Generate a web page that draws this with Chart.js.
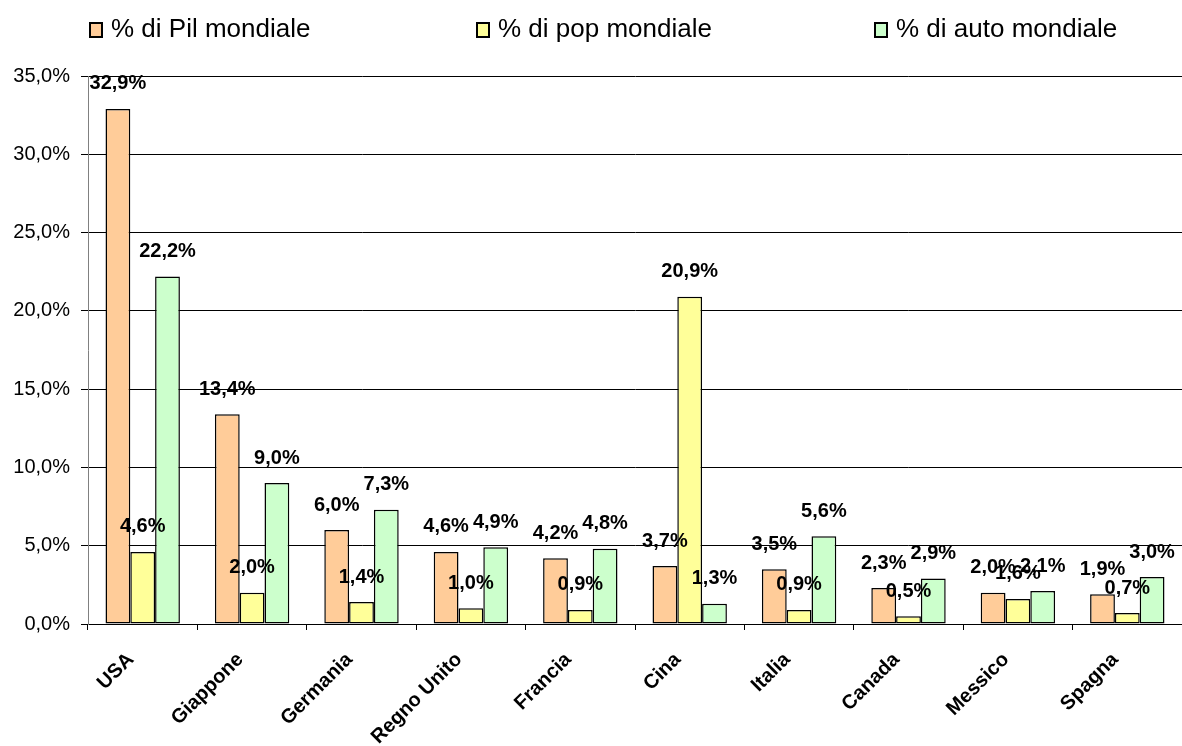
<!DOCTYPE html>
<html lang="it">
<head>
<meta charset="UTF-8">
<title>Pil, popolazione e auto</title>
<script src="https://cdnjs.cloudflare.com/ajax/libs/Chart.js/4.4.0/chart.umd.min.js"></script>
<style>
  * { margin:0; padding:0; box-sizing:border-box; }
  body { background:#fff; font-family:'Liberation Sans', Arial, sans-serif; }
  .wrap { position:relative; width:1182px; height:746px; }
  .legenda { position:absolute; top:13px; left:0; width:1182px; height:30px; }
  .legenda span { position:absolute; top:0; display:flex; align-items:center; font-size:26px; line-height:30px; color:#000; white-space:nowrap; }
  .legenda i { display:inline-block; width:14px; height:16px; border:2px solid #000; margin-right:8px; margin-top:3px; }
</style>
</head>
<body>
<div class="wrap">
  <div class="legenda" id="legenda"></div>
  <canvas id="grafico"></canvas>
</div>

<script>
const paesi = ['USA','Giappone','Germania','Regno Unito','Francia','Cina','Italia','Canada','Messico','Spagna'];
const pil  = [32.9, 13.4, 6.0, 4.6, 4.2, 3.7, 3.5, 2.3, 2.0, 1.9];
const pop  = [4.6, 2.0, 1.4, 1.0, 0.9, 20.9, 0.9, 0.5, 1.6, 0.7];
const auto = [22.2, 9.0, 7.3, 4.9, 4.8, 1.3, 5.6, 2.9, 2.1, 3.0];
const serie = ['% di Pil mondiale','% di pop mondiale','% di auto mondiale'];
const colori = ['#FFCC99','#FFFF99','#CCFFCC'];
const legendaX = [89, 476, 874];

const fmt = v => v.toFixed(1).replace('.', ',') + '%';

// legenda in HTML, le tre voci sono molto distanziate
const leg = document.getElementById('legenda');
serie.forEach((s, i) => {
  const el = document.createElement('span');
  el.style.left = legendaX[i] + 'px';
  el.innerHTML = `<i style="background:${colori[i]}"></i>${s}`;
  leg.appendChild(el);
});

// etichette dei valori sopra le barre
const etichette = {
  id:'etichette',
  afterDatasetsDraw(chart){
    const ctx = chart.ctx;
    ctx.save();
    ctx.font = 'bold 20px "Liberation Sans", Arial, sans-serif';
    ctx.fillStyle = '#000';
    ctx.textAlign = 'center';
    ctx.textBaseline = 'middle';
    chart.data.datasets.forEach((ds, i) => {
      chart.getDatasetMeta(i).data.forEach((bar, j) => {
        ctx.fillText(fmt(ds.data[j]), bar.x, bar.y - 25);
      });
    });
    ctx.restore();
  }
};

new Chart(document.getElementById('grafico').getContext('2d'), {
  type:'bar',
  data:{
    labels:paesi,
    datasets:[
      { label:serie[0], data:pil,  backgroundColor:colori[0] },
      { label:serie[1], data:pop,  backgroundColor:colori[1] },
      { label:serie[2], data:auto, backgroundColor:colori[2] }
    ]
  },
  options:{
    responsive:true, maintainAspectRatio:false, animation:false,
    datasets:{ bar:{ borderColor:'#000', borderWidth:1.5, borderSkipped:false, categoryPercentage:0.68, barPercentage:1 } },
    layout:{ padding:{ top:76, right:0, left:0, bottom:0 } },
    plugins:{ legend:{ display:false }, tooltip:{ enabled:false } },
    scales:{
      x:{
        afterFit(s){ s.height = 122; },
        grid:{ drawOnChartArea:false, color:'#000', tickLength:6 },
        border:{ color:'#000' },
        ticks:{ color:'#000', minRotation:45, maxRotation:45, padding:18, labelOffset:-12,
                font:{ family:'"Liberation Sans", Arial, sans-serif', size:20, weight:'bold' } }
      },
      y:{
        min:0, max:35,
        afterFit(s){ s.width = 88; },
        grid:{ color:'#000', tickLength:7 },
        border:{ color:'#808080' },
        ticks:{ stepSize:5, color:'#000', padding:11, callback:v => fmt(v),
                font:{ family:'"Liberation Sans", Arial, sans-serif', size:20 } }
      }
    }
  },
  plugins:[etichette]
});
</script>
</body>
</html>
